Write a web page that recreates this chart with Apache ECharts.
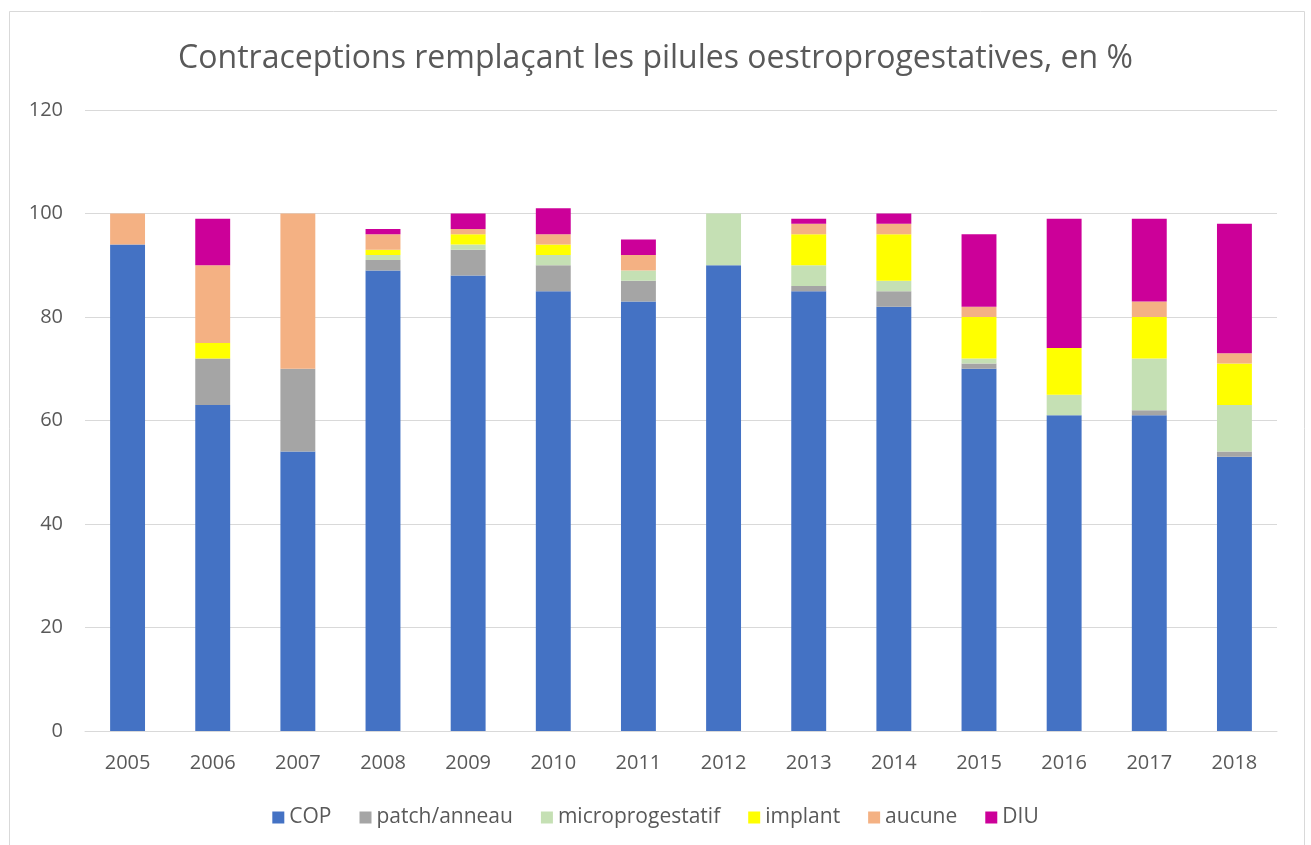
<!DOCTYPE html>
<html>
<head>
<meta charset="utf-8">
<script src="https://cdn.jsdelivr.net/npm/echarts@6/dist/echarts.min.js"></script>
<style>
html,body{margin:0;padding:0;background:#fff;}
#c{width:1311px;height:845px;}
</style>
</head>
<body>
<div id="c"></div>
<script>
var years = ['2005','2006','2007','2008','2009','2010','2011','2012','2013','2014','2015','2016','2017','2018'];
var cop            = [94, 63, 54, 89, 88, 85, 83, 90, 85, 82, 70, 61, 61, 53];
var patchAnneau    = [0,  9,  16, 2,  5,  5,  4,  0,  1,  3,  1,  0,  1,  1];
var microprogestatif=[0,  0,  0,  1,  1,  2,  2,  10, 4,  2,  1,  4,  10, 9];
var implant        = [0,  3,  0,  1,  2,  2,  0,  0,  6,  9,  8,  9,  8,  8];
var aucune         = [6,  15, 30, 3,  1,  2,  3,  0,  2,  2,  2,  0,  3,  2];
var diu            = [0,  9,  0,  1,  3,  5,  3,  0,  1,  2,  14, 25, 16, 25];
var yTicks = [0, 20, 40, 60, 80, 100, 120];

var names = ['COP','patch/anneau','microprogestatif','implant','aucune','DIU'];
var datas = [cop, patchAnneau, microprogestatif, implant, aucune, diu];
var colors = ['#4472C4','#A5A5A5','#C5E0B4','#FFFF00','#F4B183','#CC0099'];

var chart = echarts.init(document.getElementById('c'), null, {renderer:'canvas'});
var font = 'Open Sans, Noto Sans, sans-serif';
chart.setOption({
  animation:false,
  backgroundColor:'#fff',
  graphic:[{type:'rect', shape:{x:9.5,y:11.5,width:1295,height:850}, style:{fill:'none',stroke:'#D9D9D9',lineWidth:1}, silent:true}],
  title:{
    text:'Contraceptions remplaçant les pilules oestroprogestatives, en %',
    left:'center', top:38,
    textStyle:{fontFamily:font, fontSize:32, fontWeight:'normal', color:'#595959'}
  },
  legend:{
    top:802, left:'center',
    itemWidth:12, itemHeight:12, itemGap:28,
    icon:'rect',
    textStyle:{fontFamily:font, fontSize:21, color:'#595959'},
    data:names
  },
  grid:{left:85, right:34, top:110, bottom:114, containLabel:false},
  xAxis:{
    type:'category', data:years,
    axisLine:{lineStyle:{color:'#D9D9D9', width:1}},
    axisTick:{show:false},
    axisLabel:{fontFamily:font, fontSize:20, color:'#595959', margin:22}
  },
  yAxis:{
    type:'value', min:yTicks[0], max:yTicks[yTicks.length-1], interval:20,
    axisLine:{show:false}, axisTick:{show:false},
    splitLine:{lineStyle:{color:'#D9D9D9', width:1}},
    axisLabel:{fontFamily:font, fontSize:20, color:'#595959', margin:22}
  },
  series: names.map(function(n,i){
    return {
      name:n, type:'bar', stack:'total', data:datas[i],
      barWidth:'41%',
      itemStyle:{color:colors[i]},
      emphasis:{disabled:true}
    };
  })
});
</script>
</body>
</html>
